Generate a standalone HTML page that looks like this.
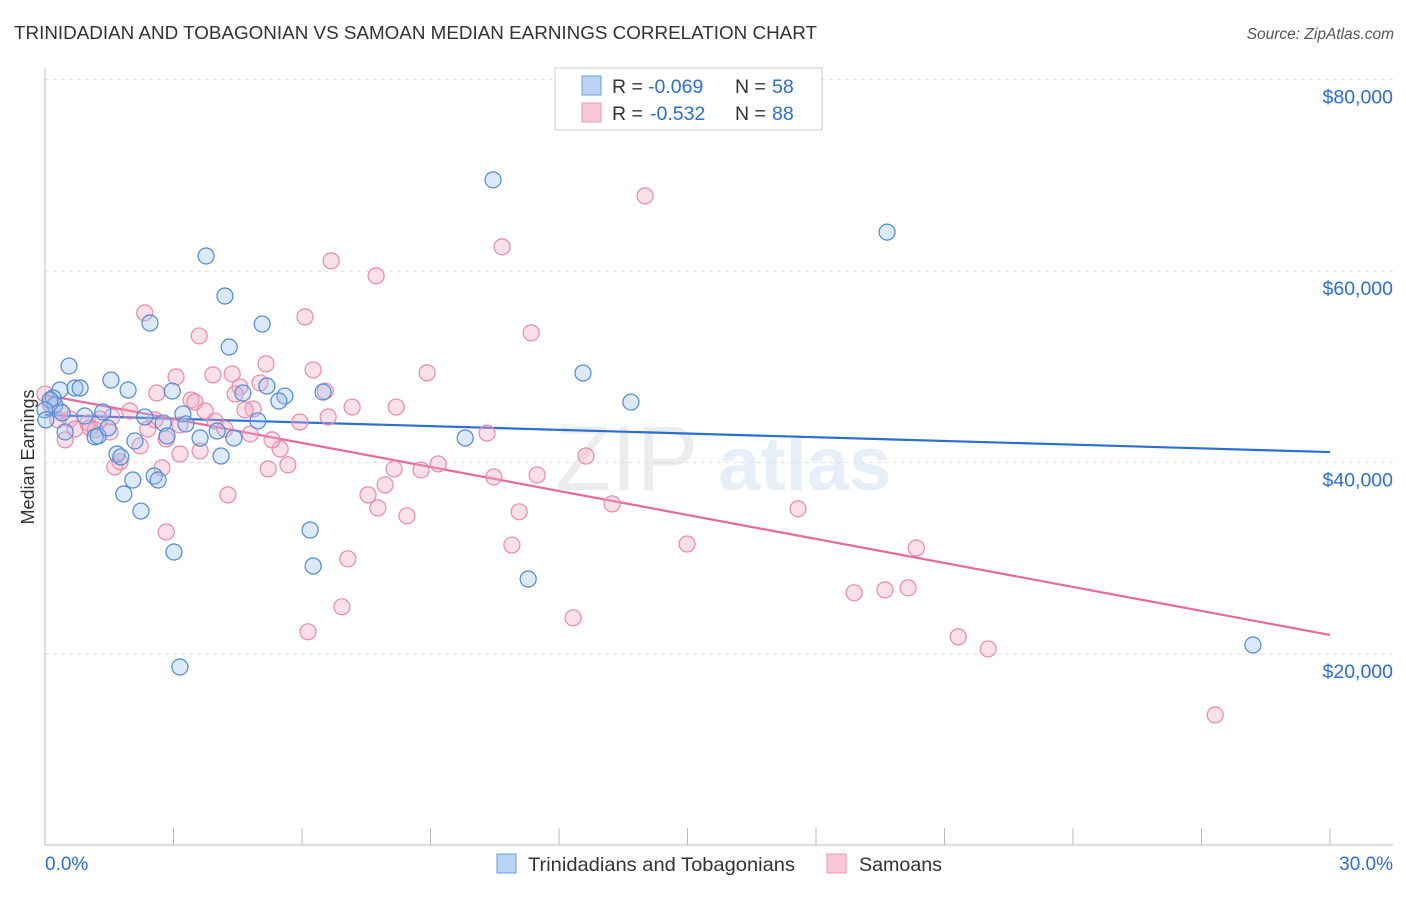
<!DOCTYPE html>
<html><head><meta charset="utf-8">
<style>
body{margin:0;background:#fff;font-family:"Liberation Sans",sans-serif;}
svg text{font-family:"Liberation Sans",sans-serif;}
</style></head>
<body>
<svg id="chart" width="1406" height="892" viewBox="0 0 1406 892" xmlns="http://www.w3.org/2000/svg">
<text x="14" y="39" font-size="18.5" fill="#333" textLength="803" lengthAdjust="spacingAndGlyphs">TRINIDADIAN AND TOBAGONIAN VS SAMOAN MEDIAN EARNINGS CORRELATION CHART</text>
<text x="1394" y="39" font-size="15.5" fill="#555" font-style="italic" text-anchor="end">Source: ZipAtlas.com</text>
<g opacity="0.18">
<text x="555" y="490" font-size="92" font-family="Liberation Serif" fill="#999">ZIP</text>
<text x="718" y="490" font-size="76" fill="#7aa3dc" font-weight="bold">atlas</text>
</g>
<g id="grid"></g>
<g id="axes"></g>
<text transform="translate(34,457) rotate(-90)" font-size="18" fill="#333" text-anchor="middle">Median Earnings</text>
<g id="lines"></g>
<g id="points"></g>
<g>
<rect x="555" y="68" width="267" height="62" fill="#fff" stroke="#ccc"/>
<rect x="582" y="76" width="19" height="19" fill="#b8d3f5" stroke="#6a9fe0"/>
<rect x="582" y="103" width="19" height="19" fill="#f8c6d5" stroke="#ea9ab5"/>
<text x="612" y="93" font-size="19.5" fill="#333">R =</text>
<text x="648" y="93" font-size="19.5" fill="#2a6fd6">-0.069</text>
<text x="735" y="93" font-size="19.5" fill="#333">N =</text>
<text x="772" y="93" font-size="19.5" fill="#2a6fd6">58</text>
<text x="612" y="120" font-size="19.5" fill="#333">R =</text>
<text x="650" y="120" font-size="19.5" fill="#2a6fd6">-0.532</text>
<text x="735" y="120" font-size="19.5" fill="#333">N =</text>
<text x="772" y="120" font-size="19.5" fill="#2a6fd6">88</text>
</g>
<g>
<rect x="497" y="854" width="19" height="19" fill="#b8d3f5" stroke="#6a9fe0"/>
<text x="528" y="871" font-size="19.5" fill="#333" textLength="267" lengthAdjust="spacingAndGlyphs">Trinidadians and Tobagonians</text>
<rect x="827" y="854" width="19" height="19" fill="#f8c6d5" stroke="#ea9ab5"/>
<text x="859" y="871" font-size="19.5" fill="#333" textLength="83" lengthAdjust="spacingAndGlyphs">Samoans</text>
</g>
</svg>
<script>
const yTicks=[20000,40000,60000,80000];
const yTickLabels=["$20,000","$40,000","$60,000","$80,000"];
const xTickLabels=["0.0%","30.0%"];
const blueX=[10.46,19.66,3.76,4.20,2.45,5.07,4.30,0.56,1.54,0.35,0.70,0.82,1.94,2.97,5.18,4.62,6.49,5.60,5.46,12.56,13.68,0.19,0.23,0.12,0.0,0.93,1.35,2.33,3.22,3.29,2.76,1.17,1.24,0.47,1.47,2.10,2.85,3.62,4.02,4.41,4.97,9.81,4.11,1.68,1.77,2.55,2.64,2.05,1.84,2.24,6.19,3.01,6.26,11.28,3.15,28.20,0.02,0.40];
const blueY=[69530,64070,61580,57400,54580,54470,52070,50080,48620,47580,47790,47790,47580,47470,48000,47270,47370,46950,46430,49350,46320,46750,46010,46540,45500,44870,45290,44770,45080,44040,44140,42680,42780,43200,43620,42260,42780,42570,43300,42570,44350,42570,40690,40900,40590,38600,38180,38180,36720,34940,32960,30660,29200,27840,18650,20950,44460,45190];
const pinkX=[14.01,10.67,6.68,7.73,2.33,6.07,11.35,3.60,5.16,6.26,8.92,3.06,3.92,4.37,5.02,4.55,2.61,3.41,3.50,6.54,7.17,8.20,10.32,0.0,0.12,0.35,0.58,0.70,1.00,1.28,1.56,1.98,2.40,2.83,3.15,3.74,3.97,4.20,4.79,4.86,5.95,6.61,5.49,5.67,5.21,3.62,1.75,2.22,2.73,4.27,8.15,8.78,9.18,10.48,11.49,12.63,7.54,7.94,7.77,8.45,11.07,13.24,17.58,2.83,10.90,14.99,20.34,7.07,6.93,6.14,12.33,18.89,19.61,20.15,21.32,22.02,27.32,0.30,1.05,1.52,3.15,4.67,5.30,2.57,0.47,1.17,4.44,1.63];
const pinkY=[67860,62530,61070,59500,55640,55220,53550,53230,50310,49680,49370,48950,49160,49260,48320,47900,47270,46540,46330,47470,45800,45800,43080,47160,46120,45390,44550,43510,44140,44550,44760,45390,43510,42470,40900,45390,44340,43510,42990,45600,44240,44760,41430,39760,39340,41220,40070,41740,39450,36630,39340,39230,39860,38500,38710,40690,36630,37670,35270,34440,34860,35690,35170,32750,31390,31500,31080,29950,24940,22330,23790,26400,26710,26920,21800,20540,13650,44460,43620,43200,43930,45500,42370,44460,42370,43410,47160,39550];
const blueTrend=[44970,41100];
const pinkTrend=[47060,22000];
const trendX=[0,30];

const NS="http://www.w3.org/2000/svg";
const sx=v=>45+v*(1285/30);
const sy=v=>845.6-v*(191.5/20000);
function mk(tag,attrs,parent){const e=document.createElementNS(NS,tag);for(const k in attrs)e.setAttribute(k,attrs[k]);parent.appendChild(e);return e;}
const grid=document.getElementById('grid'),axes=document.getElementById('axes');
yTicks.forEach((t,i)=>{
 const l=mk('line',{x1:45,x2:1393,y1:sy(t),y2:sy(t),stroke:'#ddd','stroke-dasharray':'4,4'},grid);
 
 
 const tx=mk('text',{x:1393,y:sy(t)+24,'font-size':19.5,fill:'#2a6fd6','text-anchor':'end'},axes);
 tx.textContent=yTickLabels[i];
 
 
});
const ya=mk('line',{x1:45,x2:45,y1:68,y2:845,stroke:'#bbb'},axes);


const xa=mk('line',{x1:45,x2:1393,y1:845,y2:845,stroke:'#bbb'},axes);


for(let i=0;i<=10;i++){
 const x=sx(i*3);
 const t=mk('line',{x1:x,x2:x,y1:828,y2:845,stroke:'#bbb'},axes);
 
 
}
[[0,'start',45],[30,'end',1393]].forEach((d,i)=>{
 const tx=mk('text',{x:d[2],y:870,'font-size':19,fill:'#2a6fd6','text-anchor':d[1]},axes);
 tx.textContent=xTickLabels[i];
 
 
});
const pts=document.getElementById('points');
function drawPts(X,Y,fill,stroke,name){
 X.forEach((x,i)=>{
  const c=mk('circle',{cx:sx(x),cy:sy(Y[i]),r:8,fill:fill,'fill-opacity':0.35,stroke:stroke,'stroke-width':1.2},pts);
  
  
 });
}
drawPts(pinkX,pinkY,'#f4a6c0','#e88aa8','samoan-point');
drawPts(blueX,blueY,'#9cc0ef','#4f8ad8','trinidadian-point');
const lines=document.getElementById('lines');
const bl=mk('line',{x1:sx(trendX[0]),x2:sx(trendX[1]),y1:sy(blueTrend[0]),y2:sy(blueTrend[1]),stroke:'#2a6fd6','stroke-width':2.2},lines);


const pl=mk('line',{x1:sx(trendX[0]),x2:sx(trendX[1]),y1:sy(pinkTrend[0]),y2:sy(pinkTrend[1]),stroke:'#e8699a','stroke-width':2.2},lines);


</script>
</body></html>
